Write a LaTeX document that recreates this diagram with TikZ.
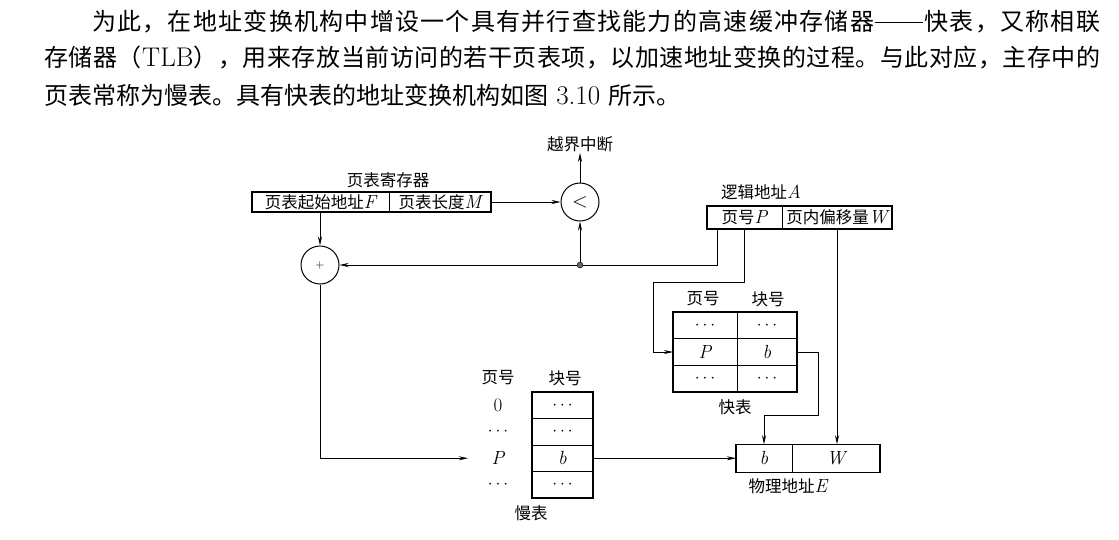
\documentclass[tikz,border=0pt]{standalone}
\usepackage{fontspec}
\usetikzlibrary{arrows.meta,calc}
\newfontfamily\cjk{Noto Sans CJK SC}
\ExplSyntaxOn
\NewDocumentCommand\spreadtext{mm}{\hbox~to~#1{\tl_map_inline:nn{#2}{##1\hfil}\unskip}}
\ExplSyntaxOff
\newcommand\lbf{\fontsize{16.5}{18}\selectfont\cjk}
\newcommand\parf{\fontsize{24}{28}\selectfont\cjk}
\newcommand\vx[1]{{\fontsize{19}{19}\selectfont\rmfamily\itshape #1}}
\newcommand\lat[1]{{\fontsize{27}{28}\selectfont\rmfamily #1}}
\newcommand\emd{\rule[0.33em]{2em}{0.06em}}
\begin{document}
\begin{tikzpicture}[x=1pt,y=-1pt,
  cell/.style={draw, line width=0.8pt, inner sep=0pt, outer sep=0pt, font=\lbf},
  lbl/.style={inner sep=1pt, font=\lbf},
  circ/.style={draw, circle, line width=1pt, minimum size=38pt, inner sep=0pt},
  arr/.style={-{Stealth[length=9pt,width=4pt]}, line width=0.7pt},
  partext/.style={anchor=west, inner sep=0pt, font=\parf}]
\fill[white] (0,0) rectangle (1119,539);
\useasboundingbox (0,0) rectangle (1119,539);
% paragraph
\node[partext] (p1) at (92,22) {\spreadtext{1008pt}{为此，在地址变换机构中增设一个具有并行查找能力的高速缓冲存储器{\emd}快表，又称相联}};
\node[partext] (p2) at (44,58) {\spreadtext{1056pt}{存储器（{{\lat{TLB}}}），用来存放当前访问的若干页表项，以加速地址变换的过程。与此对应，主存中的}};
\node[partext] (p3) at (44,95) {页表常称为慢表。具有快表的地址变换机构如图\lat{\ 3.10\ }所示。};
% page table register
\node[lbl] (regl) at (388,180) {页表寄存器};
\node[cell, minimum width=137pt, minimum height=20pt] (r1) at (320.5,202) {页表起始地址\vx{F}};
\node[cell, minimum width=102pt, minimum height=20pt] (r2) at (440,202) {页表长度\vx{M}};
\draw[line width=1.3pt] (r1.north west) rectangle (r2.south east);
% comparator
\node[circ] (cmp) at (580,202) {\fontsize{20}{20}\selectfont$<$};
\node[lbl] (over) at (580,144) {越界中断};
% adder
\node[circ] (plus) at (320,265) {\fontsize{12}{12}\selectfont$+$};
\node[circle, fill=black!60, draw=black, inner sep=0pt, minimum size=6pt] (dot) at (580,265) {};
% logical address
\node[lbl] (lal) at (761,192) {逻辑地址\vx{A}};
\node[cell, minimum width=75pt, minimum height=23pt] (la1) at (744.5,217.5) {页号\vx{P}};
\node[cell, minimum width=110pt, minimum height=23pt] (la2) at (837,217.5) {页内偏移量\vx{W}};
\draw[line width=1.3pt] (la1.north west) rectangle (la2.south east);
% TLB
\node[lbl] (th1) at (703,299) {页号};
\node[lbl] (th2) at (768,299) {块号};
\node[cell, minimum width=64pt, minimum height=26.7pt] (t11) at (705,325.3) {$\cdots$};
\node[cell, minimum width=60pt, minimum height=26.7pt] (t12) at (767,325.3) {$\cdots$};
\node[cell, minimum width=64pt, minimum height=26.7pt] (t21) at (705,352) {\vx{P}};
\node[cell, minimum width=60pt, minimum height=26.7pt] (t22) at (767,352) {\vx{b}};
\node[cell, minimum width=64pt, minimum height=26.7pt] (t31) at (705,378.7) {$\cdots$};
\node[cell, minimum width=60pt, minimum height=26.7pt] (t32) at (767,378.7) {$\cdots$};
\draw[line width=1.3pt] (t11.north west) rectangle (t32.south east);
\node[lbl] (tl) at (735,407) {快表};
% slow page table
\node[lbl] (sh1) at (498,378) {页号};
\node[lbl] (sh2) at (565,378) {块号};
\node[cell, minimum width=61pt, minimum height=26.5pt] (s1) at (562.5,405.25) {$\cdots$};
\node[cell, minimum width=61pt, minimum height=26.5pt] (s2) at (562.5,431.75) {$\cdots$};
\node[cell, minimum width=61pt, minimum height=26.5pt] (s3) at (562.5,458.25) {\vx{b}};
\node[cell, minimum width=61pt, minimum height=26.5pt] (s4) at (562.5,484.75) {$\cdots$};
\draw[line width=1.3pt] (s1.north west) rectangle (s4.south east);
\node[lbl] (n0) at (498,405.25) {\fontsize{19}{19}\selectfont\rmfamily 0};
\node[lbl] (n1) at (498,431.75) {$\cdots$};
\node[lbl] (pl) at (498,458.25) {\vx{P}};
\node[lbl] (n3) at (498,484.75) {$\cdots$};
\node[lbl] (sl) at (531,513) {慢表};
% physical address
\node[cell, minimum width=56pt, minimum height=28pt] (pa1) at (764,458.25) {\vx{b}};
\node[cell, minimum width=88pt, minimum height=28pt] (pa2) at (836,458.25) {\vx{W}};
\draw[line width=1.3pt] (pa1.north west) rectangle (pa2.south east);
\node[lbl] (pal) at (788,486) {物理地址\vx{E}};
% bend points
\coordinate (k1) at (653,282);
\coordinate (k2) at (818,415);
\coordinate (pin) at ($(pl.center)+(-30,0)$);
% connectors
\draw[arr] (r2.east) -- (cmp.west);
\draw[arr] (cmp.north) -- (over.south);
\draw[arr] (plus |- r1.south) -- (plus.north);
\draw[arr] (dot) -- (cmp.south);
\draw[arr] ([xshift=10pt]la1.south west) |- (dot) -- (plus.east);
\draw[arr] (la1.south) |- (k1) |- (t21.west);
\draw[arr] (la2.south) -- (la2.south |- pa2.north);
\draw[arr] (t22.east) -| (k2) -| (pa1.north);
\draw[arr] (plus.south) |- (pin);
\draw[arr] (s3.east) -- (pa1.west);
\end{tikzpicture}
\end{document}
